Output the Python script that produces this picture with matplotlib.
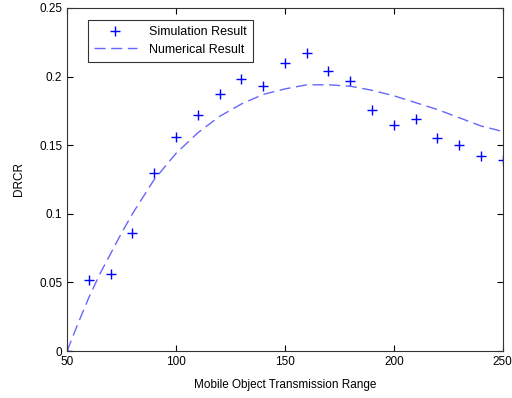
import matplotlib
matplotlib.use('Agg')
import matplotlib.pyplot as plt

# simulation points
sim_x = [50, 60, 70, 80, 90, 100, 110, 120, 130, 140, 150, 160, 170, 180, 190, 200, 210, 220, 230, 240, 250]
sim_y = [0.0, 0.052, 0.056, 0.086, 0.130, 0.156, 0.172, 0.187, 0.198, 0.193, 0.210, 0.217,
         0.204, 0.197, 0.176, 0.165, 0.169, 0.155, 0.150, 0.142, 0.139]

# numerical curve
num_x = [50, 55, 60, 65, 70, 75, 80, 90, 100, 110, 120, 130, 140, 150, 160, 170, 180, 190, 200, 210, 220, 230, 240, 250]
num_y = [0.0, 0.020, 0.039, 0.056, 0.071, 0.086, 0.100, 0.125, 0.144, 0.159, 0.171, 0.180, 0.187,
         0.191, 0.194, 0.194, 0.193, 0.190, 0.186, 0.181, 0.176, 0.170, 0.164, 0.160]

plt.rcParams['font.family'] = ['Liberation Sans', 'DejaVu Sans']

fig = plt.figure(figsize=(5.12, 3.98), dpi=100)
ax = fig.add_axes([0.131, 0.118, 0.851, 0.862])

ax.plot(sim_x, sim_y, '+', color='#0000ff', markersize=7, markeredgewidth=1.0, label='Simulation Result')
ax.plot(num_x, num_y, '--', color='#6666ff', linewidth=1.0, dashes=(8, 4), label='Numerical Result')

ax.set_xlim(50, 250)
ax.set_ylim(0, 0.25)
ax.set_xticks([50, 100, 150, 200, 250])
ax.set_yticks([0, 0.05, 0.1, 0.15, 0.2, 0.25])
ax.set_yticklabels(['0', '0.05', '0.1', '0.15', '0.2', '0.25'])
ax.tick_params(direction='in', top=True, right=True, labelsize=8.5, length=4, width=0.8)
for s in ax.spines.values():
    s.set_linewidth(0.8)
    s.set_color('#333333')

ax.set_xlabel('Mobile Object Transmission Range', fontsize=8.5, labelpad=8)
ax.set_ylabel('DRCR', fontsize=8.5, labelpad=10)

leg = ax.legend(loc='upper left', bbox_to_anchor=(0.048, 0.965), borderaxespad=0, fontsize=9, frameon=True,
                fancybox=False, edgecolor='black', borderpad=0.5, handlelength=3.4, handletextpad=1.0,
                labelspacing=0.45)
leg.get_frame().set_linewidth(0.8)

plt.savefig('out.png', dpi=100)
